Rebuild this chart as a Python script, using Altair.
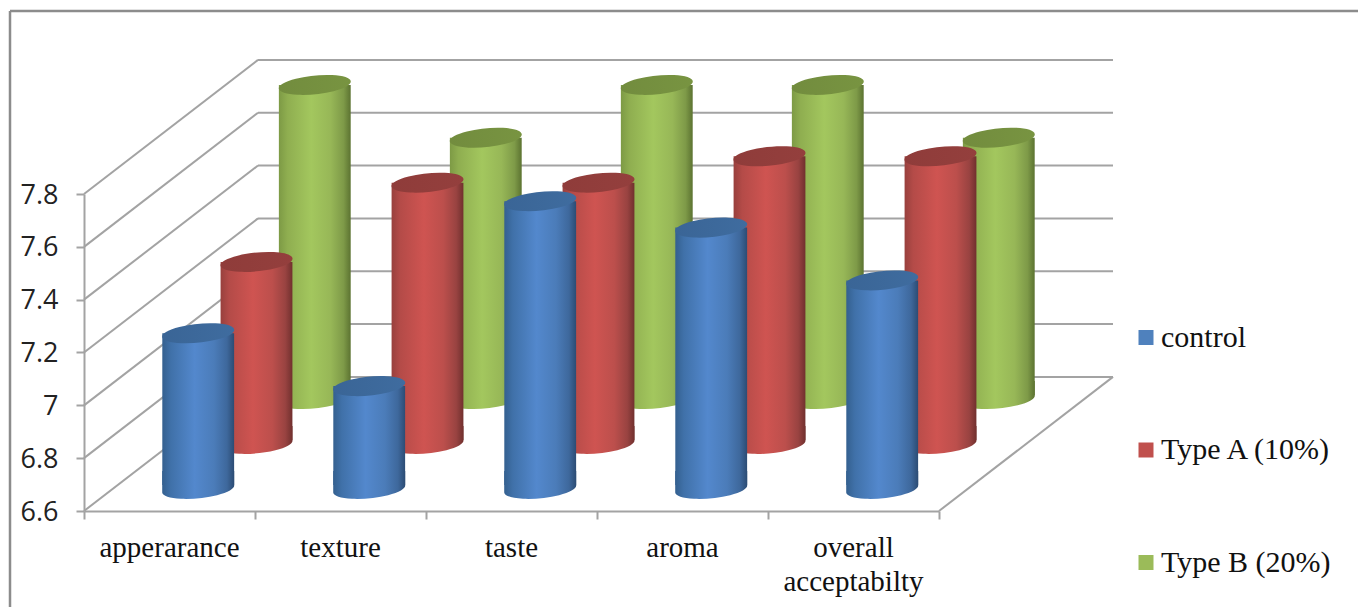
import altair as alt
import pandas as pd

# Sensory scores per attribute and formulation
categories = ["apperarance", "texture", "taste", "aroma", "overall\nacceptabilty"]
series_names = ["control", "Type A (10%)", "Type B (20%)"]
control = [7.2, 7.0, 7.7, 7.6, 7.4]
type_a = [7.3, 7.6, 7.6, 7.7, 7.7]
type_b = [7.8, 7.6, 7.8, 7.8, 7.6]
y_ticks = [6.6, 6.8, 7.0, 7.2, 7.4, 7.6, 7.8]
x_ticks = [0, 1, 2, 3, 4, 5]

# Oblique projection: how far one unit of depth shifts along each scale
SHIFT_X = 1.0175
SHIFT_Y = 0.5076
BAR_HALF = 0.21
BASE = 6.6
CAP_DROP = 0.011   # the cap centre sits just under the nominal top
END_RISE = 0.015   # rise of a cylinder's right edge above its base centre
depths = {"control": 0.165, "Type A (10%)": 0.5, "Type B (20%)": 0.835}

legend_colors = ["#4f81bd", "#c0504d", "#9bbb59"]
GRID = "#a3a3a3"
FRAME = "#8c8c8c"
SERIF = "Liberation Serif"


def gradient(stops):
    return {
        "gradient": "linear", "x1": 0, "x2": 1, "y1": 0, "y2": 0,
        "stops": [{"offset": o, "color": c} for o, c in stops],
    }


body_fill = {
    "control": gradient([(0, "#34608f"), (0.12, "#4071a9"), (0.45, "#5388cd"),
                         (0.72, "#4b7cb9"), (0.9, "#3e689c"), (1, "#2c4c74")]),
    "Type A (10%)": gradient([(0, "#98403d"), (0.12, "#b44b48"), (0.45, "#cf5451"),
                              (0.72, "#bc4f4c"), (0.9, "#994341"), (1, "#71302e")]),
    "Type B (20%)": gradient([(0, "#7d9a45"), (0.12, "#8fae50"), (0.45, "#a3c75e"),
                              (0.72, "#97b757"), (0.9, "#7e9a48"), (1, "#5c7331")]),
}
cap_fill = {
    "control": gradient([(0, "#3a6596"), (1, "#3f6c9f")]),
    "Type A (10%)": gradient([(0, "#8f3c3a"), (1, "#943f3d")]),
    "Type B (20%)": gradient([(0, "#728c3e"), (1, "#789441")]),
}

rows = []
for name, values in zip(series_names, [control, type_a, type_b]):
    d = depths[name]
    for i, (cat, v) in enumerate(zip(categories, values)):
        xc = i + 0.5 + d * SHIFT_X
        base = BASE + d * SHIFT_Y
        rows.append({
            "category": cat, "series": name, "value": v,
            "xc": xc, "x0": xc - BAR_HALF, "x1": xc + BAR_HALF,
            "top": v + d * SHIFT_Y - CAP_DROP, "base": base, "body_end": base + END_RISE,
        })
bars = pd.DataFrame(rows)

x_scale = alt.Scale(domain=[0, 5], nice=False, zero=False)
y_scale = alt.Scale(domain=[6.6, 7.8], nice=False, zero=False)

# One axis definition shared by every layer
x_axis = alt.Axis(values=x_ticks, labels=False, grid=False, tickSize=8, tickWidth=2,
                  tickColor=GRID, domainColor=GRID, domainWidth=2, title=None)
y_axis = alt.Axis(values=y_ticks, format=".2~f", grid=False, tickSize=8, tickWidth=2,
                  tickColor=GRID, domainColor=GRID, domainWidth=2, title=None,
                  labelFont="Open Sans", labelFontSize=27, labelColor="#222222",
                  labelPadding=18, labelOffset=1)


def X(field):
    return alt.X(field, type="quantitative", scale=x_scale, axis=x_axis)


def Y(field):
    return alt.Y(field, type="quantitative", scale=y_scale, axis=y_axis)


# Wall and floor lines of the box
side = pd.DataFrame({"x0": 0.0, "x1": SHIFT_X, "y0": y_ticks,
                     "y1": [t + SHIFT_Y for t in y_ticks]})
back = pd.DataFrame({"x0": SHIFT_X, "x1": 5 + SHIFT_X,
                     "y0": [t + SHIFT_Y for t in y_ticks]})
floor_edge = pd.DataFrame({"x0": [5.0], "x1": [5 + SHIFT_X], "y0": [BASE], "y1": [BASE + SHIFT_Y]})

walls = [
    alt.Chart(side).mark_rule(color=GRID, strokeWidth=2).encode(
        x=X("x0"), x2="x1", y=Y("y0"), y2="y1"),
    alt.Chart(back).mark_rule(color=GRID, strokeWidth=2).encode(
        x=X("x0"), x2="x1", y=Y("y0")),
    alt.Chart(floor_edge).mark_rule(color=GRID, strokeWidth=2).encode(
        x=X("x0"), x2="x1", y=Y("y0"), y2="y1"),
]

# Cylinder ends, tilted slightly up to the right: a flat cap on top,
# and below it straight sides closed by the lower half of the ellipse
CAP = "M-1,0.1 A1.005,0.26 -5.7 1 1 1,-0.1 A1.005,0.26 -5.7 1 1 -1,0.1 Z"
FOOT = "M-1,-0.5 L-1,0.1 A1.005,0.26 -5.7 1 0 1,-0.1 L1,-0.5 Z"
END_SIZE = 5184

cylinders = []
for name in reversed(series_names):
    sub = bars[bars["series"] == name]
    base_chart = alt.Chart(sub)
    cylinders += [
        base_chart.mark_point(shape=FOOT, size=END_SIZE, filled=True, opacity=1,
                              fill=body_fill[name], strokeWidth=0).encode(
            x=X("xc"), y=Y("base")),
        base_chart.mark_rect(fill=body_fill[name]).encode(
            x=X("x0"), x2="x1", y=Y("top"), y2="body_end"),
        base_chart.mark_point(shape=CAP, size=END_SIZE, filled=True, opacity=1,
                              fill=cap_fill[name], strokeWidth=0).encode(
            x=X("xc"), y=Y("top")),
    ]

# Category names centred between the x ticks
cat_labels = pd.DataFrame({"label": categories, "x": [i + 0.5 for i in range(len(categories))]})
labels = alt.Chart(cat_labels).mark_text(
    font=SERIF, fontSize=29, color="#111111", lineBreak="\n", lineHeight=34, baseline="middle"
).encode(x=alt.X("x:Q", scale=x_scale, axis=x_axis), y=alt.value(354), text="label:N")

# Zero-sized marks that feed the legend
legend_feed = alt.Chart(pd.DataFrame({"series": series_names, "x": [0.0] * 3, "y": [BASE] * 3})).mark_square(
    size=0, opacity=1).encode(
    x=X("x"), y=Y("y"),
    color=alt.Color("series:N", scale=alt.Scale(domain=series_names, range=legend_colors),
                    legend=alt.Legend(orient="none", legendX=1047, legendY=128.5, title=None,
                                      symbolType="square", symbolSize=225, symbolStrokeWidth=0,
                                      symbolOpacity=1, labelFont=SERIF, labelFontSize=30,
                                      labelColor="#111111", labelOffset=0, rowPadding=82.5,
                                      labelLimit=300)),
)

# Outer frame of the figure
frame = [
    alt.Chart(pd.DataFrame({"a": [0]})).mark_rule(color=FRAME, strokeWidth=2.5).encode(
        x=alt.value(-74), y=alt.value(-183), y2=alt.value(413)),
    alt.Chart(pd.DataFrame({"a": [0]})).mark_rule(color=FRAME, strokeWidth=2.5).encode(
        y=alt.value(-183), x=alt.value(-74), x2=alt.value(1274)),
]

chart = alt.layer(*walls, *cylinders, labels, legend_feed, *frame).properties(
    width=855, height=317,
    autosize=alt.AutoSizeParams(type="none"),
    padding={"left": 84, "top": 194, "right": 419, "bottom": 96},
    background="white",
).configure_view(strokeWidth=0)

chart.save("out.html", embed_options={"renderer": "svg", "actions": False})
